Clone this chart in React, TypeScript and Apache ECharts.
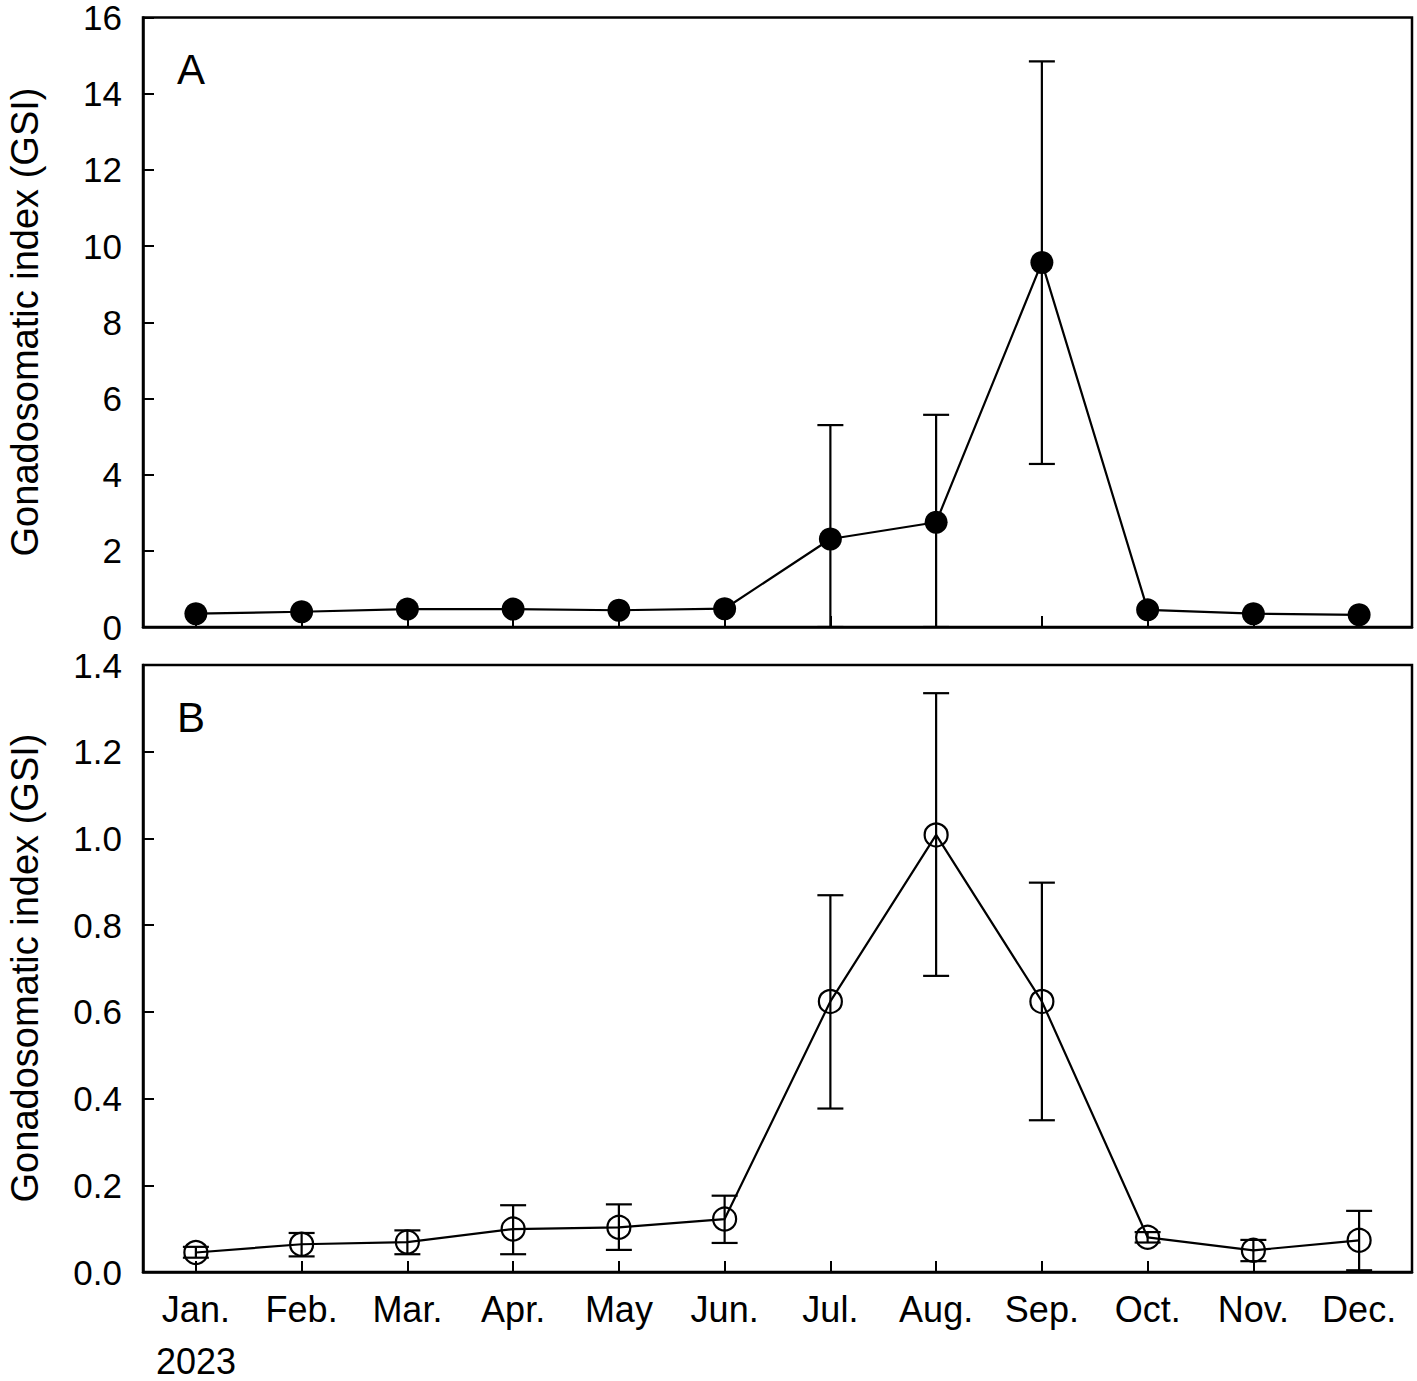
import React, { useEffect, useRef } from "react";
import * as echarts from "echarts";

const months = ["Jan.", "Feb.", "Mar.", "Apr.", "May", "Jun.", "Jul.", "Aug.", "Sep.", "Oct.", "Nov.", "Dec."];

// Panel A (filled circles)
const gsiA = [0.35, 0.4, 0.47, 0.47, 0.44, 0.48, 2.31, 2.75, 9.57, 0.45, 0.35, 0.32];
const upperA: (number | null)[] = [null, null, null, null, null, null, 5.3, 5.57, 14.85, null, null, null];
const lowerA: (number | null)[] = [null, null, null, null, null, null, 0, 0, 4.28, null, null, null];

// Panel B (open circles)
const gsiB = [0.045, 0.064, 0.069, 0.099, 0.103, 0.122, 0.624, 1.008, 0.624, 0.08, 0.05, 0.073];
const upperB = [0.058, 0.09, 0.096, 0.154, 0.156, 0.176, 0.869, 1.335, 0.898, 0.092, 0.074, 0.141];
const lowerB = [0.033, 0.036, 0.041, 0.041, 0.051, 0.067, 0.377, 0.683, 0.35, 0.068, 0.025, 0.004];

const ticksA = [0, 2, 4, 6, 8, 10, 12, 14, 16];
const ticksB = [0, 0.2, 0.4, 0.6, 0.8, 1.0, 1.2, 1.4];

const FONT = "Liberation Sans";

function errRows(up: (number | null)[], lo: (number | null)[]) {
  const rows: number[][] = [];
  up.forEach((u, i) => {
    const l = lo[i];
    if (u != null && l != null) rows.push([i, l, u]);
  });
  return rows;
}

const renderErr = (params: any, api: any) => {
  const x = api.value(0);
  const lo = api.coord([x, api.value(1)]);
  const hi = api.coord([x, api.value(2)]);
  const hw = 13;
  const style = { stroke: "#000", lineWidth: 2.2 };
  return {
    type: "group",
    children: [
      { type: "line", shape: { x1: hi[0], y1: hi[1], x2: lo[0], y2: lo[1] }, style },
      { type: "line", shape: { x1: hi[0] - hw, y1: hi[1], x2: hi[0] + hw, y2: hi[1] }, style },
      { type: "line", shape: { x1: lo[0] - hw, y1: lo[1], x2: lo[0] + hw, y2: lo[1] }, style },
    ],
  };
};

export default function App() {
  const ref = useRef<HTMLDivElement>(null);
  useEffect(() => {
    document.body.style.margin = "0";
    const chart = echarts.init(ref.current!, null, { renderer: "svg" });
    const axisLine = { show: true, lineStyle: { color: "#000", width: 2.5 } };
    const xAxisCommon = (gridIndex: number, showLabel: boolean) => ({
      type: "category",
      gridIndex,
      data: months,
      boundaryGap: true,
      axisLine,
      axisTick: { show: true, inside: true, alignWithLabel: true, length: 11, lineStyle: { color: "#000", width: 2 } },
      axisLabel: { show: showLabel, color: "#000", fontFamily: FONT, fontSize: 36, margin: 19, interval: 0 },
      splitLine: { show: false },
    });
    const yAxisCommon = (gridIndex: number, max: number, interval: number, fmt: (v: number) => string) => ({
      type: "value",
      gridIndex,
      min: 0,
      max,
      interval,
      axisLine,
      axisTick: { show: true, inside: true, length: 11, lineStyle: { color: "#000", width: 2 } },
      axisLabel: { color: "#000", fontFamily: FONT, fontSize: 35, lineHeight: 30, margin: 21, formatter: fmt },
      splitLine: { show: false },
    });
    chart.setOption({
      animation: false,
      backgroundColor: "#fff",
      grid: [
        { left: 143, top: 17, width: 1269, height: 610, show: true, borderColor: "#000", borderWidth: 2.5, backgroundColor: "transparent" },
        { left: 143, top: 665, width: 1269, height: 607, show: true, borderColor: "#000", borderWidth: 2.5, backgroundColor: "transparent" },
      ],
      xAxis: [xAxisCommon(0, false), xAxisCommon(1, true)],
      yAxis: [
        yAxisCommon(0, ticksA[ticksA.length - 1], ticksA[1] - ticksA[0], (v: number) => String(Math.round(v))),
        yAxisCommon(1, ticksB[ticksB.length - 1], 0.2, (v: number) => v.toFixed(1)),
      ],
      series: [
        {
          type: "custom",
          xAxisIndex: 0,
          yAxisIndex: 0,
          renderItem: renderErr,
          data: errRows(upperA, lowerA),
          encode: { x: 0, y: [1, 2] },
          clip: true,
          z: 2,
        },
        {
          type: "line",
          xAxisIndex: 0,
          yAxisIndex: 0,
          data: gsiA,
          symbol: "circle",
          symbolSize: 23,
          itemStyle: { color: "#000" },
          lineStyle: { color: "#000", width: 2.2 },
          z: 3,
        },
        {
          type: "custom",
          xAxisIndex: 1,
          yAxisIndex: 1,
          renderItem: renderErr,
          data: errRows(upperB, lowerB),
          encode: { x: 0, y: [1, 2] },
          clip: true,
          z: 2,
        },
        {
          type: "line",
          xAxisIndex: 1,
          yAxisIndex: 1,
          data: gsiB,
          symbol: "circle",
          symbolSize: 23,
          showAllSymbol: true,
          itemStyle: { color: "rgba(0,0,0,0)", borderColor: "#000", borderWidth: 2.2 },
          lineStyle: { color: "#000", width: 2.2 },
          z: 3,
        },
      ],
      graphic: [
        { type: "text", x: 177, y: 48, style: { text: "A", fontFamily: FONT, fontSize: 42, fill: "#000", textVerticalAlign: "top" } },
        { type: "text", x: 177, y: 696, style: { text: "B", fontFamily: FONT, fontSize: 42, fill: "#000", textVerticalAlign: "top" } },
        {
          type: "text", x: 25, y: 322, rotation: Math.PI / 2,
          style: { text: "Gonadosomatic index (GSI)", fontFamily: FONT, fontSize: 38, fill: "#000", textAlign: "center", textVerticalAlign: "middle" },
        },
        {
          type: "text", x: 25, y: 968, rotation: Math.PI / 2,
          style: { text: "Gonadosomatic index (GSI)", fontFamily: FONT, fontSize: 38, fill: "#000", textAlign: "center", textVerticalAlign: "middle" },
        },
        { type: "text", x: 156, y: 1343, style: { text: "2023", fontFamily: FONT, fontSize: 36, fill: "#000", textVerticalAlign: "top" } },
      ],
    });
    return () => chart.dispose();
  }, []);
  return <div ref={ref} style={{ width: 1417, height: 1381 }} />;
}
